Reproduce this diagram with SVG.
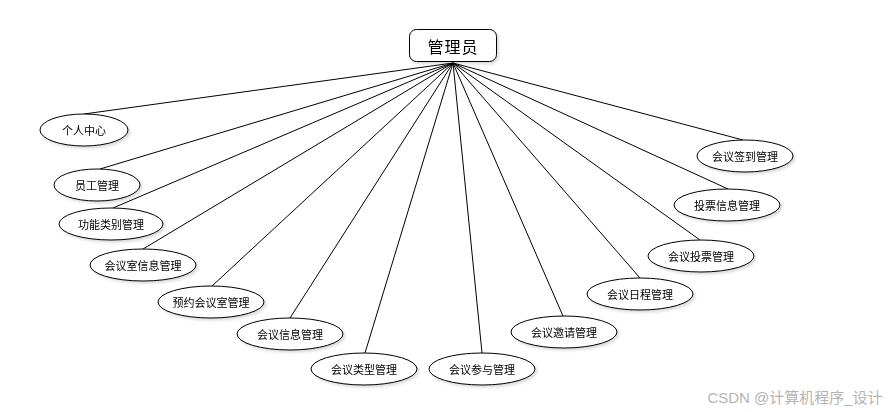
<svg xmlns="http://www.w3.org/2000/svg" width="896" height="412" viewBox="0 0 896 412">
<style>
.n ellipse{fill:#fff;stroke:#000;stroke-width:1}
.n text{font-family:"Noto Sans CJK SC","Liberation Sans",sans-serif;font-size:11px;text-anchor:middle;dominant-baseline:central;fill:#000}
#edges line{stroke:#000;stroke-width:1}
</style>
<defs>
<filter id="sh" x="-20%" y="-30%" width="140%" height="160%">
<feGaussianBlur in="SourceAlpha" stdDeviation="1.5"/>
<feOffset dx="2" dy="2"/>
<feComponentTransfer><feFuncA type="linear" slope="0.15"/></feComponentTransfer>
<feMerge><feMergeNode/><feMergeNode in="SourceGraphic"/></feMerge>
</filter>
</defs>
<rect width="896" height="412" fill="#fff"/>
<g id="edges">
<line x1="453" y1="63" x2="84" y2="114"/>
<line x1="453" y1="63" x2="100" y2="169"/>
<line x1="453" y1="63" x2="113" y2="208"/>
<line x1="453" y1="63" x2="143" y2="249"/>
<line x1="453" y1="63" x2="212" y2="286"/>
<line x1="453" y1="63" x2="290" y2="318"/>
<line x1="453" y1="63" x2="365" y2="353"/>
<line x1="453" y1="63" x2="482" y2="353"/>
<line x1="453" y1="63" x2="563" y2="316"/>
<line x1="453" y1="63" x2="640" y2="278"/>
<line x1="453" y1="63" x2="700" y2="240"/>
<line x1="453" y1="63" x2="728" y2="189"/>
<line x1="453" y1="63" x2="743" y2="140"/>
</g>
<g id="root" filter="url(#sh)">
<rect x="409.5" y="29.5" width="87" height="32" rx="7" ry="7" fill="#fff" stroke="#000"/>
<text x="453" y="46" font-family="Noto Sans CJK SC,Liberation Sans,sans-serif" font-size="16" text-anchor="middle" dominant-baseline="central" letter-spacing="1">管理员</text>
</g>
<g id="n1" class="n" filter="url(#sh)"><ellipse cx="84" cy="130" rx="44" ry="16"/><text x="84" y="130">个人中心</text></g>
<g id="n2" class="n" filter="url(#sh)"><ellipse cx="97" cy="185" rx="43" ry="16"/><text x="97" y="185">员工管理</text></g>
<g id="n3" class="n" filter="url(#sh)"><ellipse cx="111" cy="224" rx="52" ry="16"/><text x="111" y="224">功能类别管理</text></g>
<g id="n4" class="n" filter="url(#sh)"><ellipse cx="143" cy="265" rx="53" ry="16"/><text x="143" y="265">会议室信息管理</text></g>
<g id="n5" class="n" filter="url(#sh)"><ellipse cx="211" cy="302" rx="53" ry="16"/><text x="211" y="302">预约会议室管理</text></g>
<g id="n6" class="n" filter="url(#sh)"><ellipse cx="290" cy="334" rx="53" ry="16"/><text x="290" y="334">会议信息管理</text></g>
<g id="n7" class="n" filter="url(#sh)"><ellipse cx="364" cy="369" rx="53" ry="16"/><text x="364" y="369">会议类型管理</text></g>
<g id="n8" class="n" filter="url(#sh)"><ellipse cx="482" cy="369" rx="53" ry="16"/><text x="482" y="369">会议参与管理</text></g>
<g id="n9" class="n" filter="url(#sh)"><ellipse cx="564" cy="332" rx="53" ry="16"/><text x="564" y="332">会议邀请管理</text></g>
<g id="n10" class="n" filter="url(#sh)"><ellipse cx="640" cy="294" rx="53" ry="16"/><text x="640" y="294">会议日程管理</text></g>
<g id="n11" class="n" filter="url(#sh)"><ellipse cx="701" cy="256" rx="53" ry="16"/><text x="701" y="256">会议投票管理</text></g>
<g id="n12" class="n" filter="url(#sh)"><ellipse cx="727" cy="205" rx="53" ry="16"/><text x="727" y="205">投票信息管理</text></g>
<g id="n13" class="n" filter="url(#sh)"><ellipse cx="745" cy="156" rx="48" ry="16"/><text x="745" y="156">会议签到管理</text></g>
<text x="795" y="397" font-family="Liberation Sans,Noto Sans CJK SC,sans-serif" font-size="15" fill="#b4b4b4" text-anchor="middle" dominant-baseline="central">CSDN @计算机程序_设计</text>
</svg>
